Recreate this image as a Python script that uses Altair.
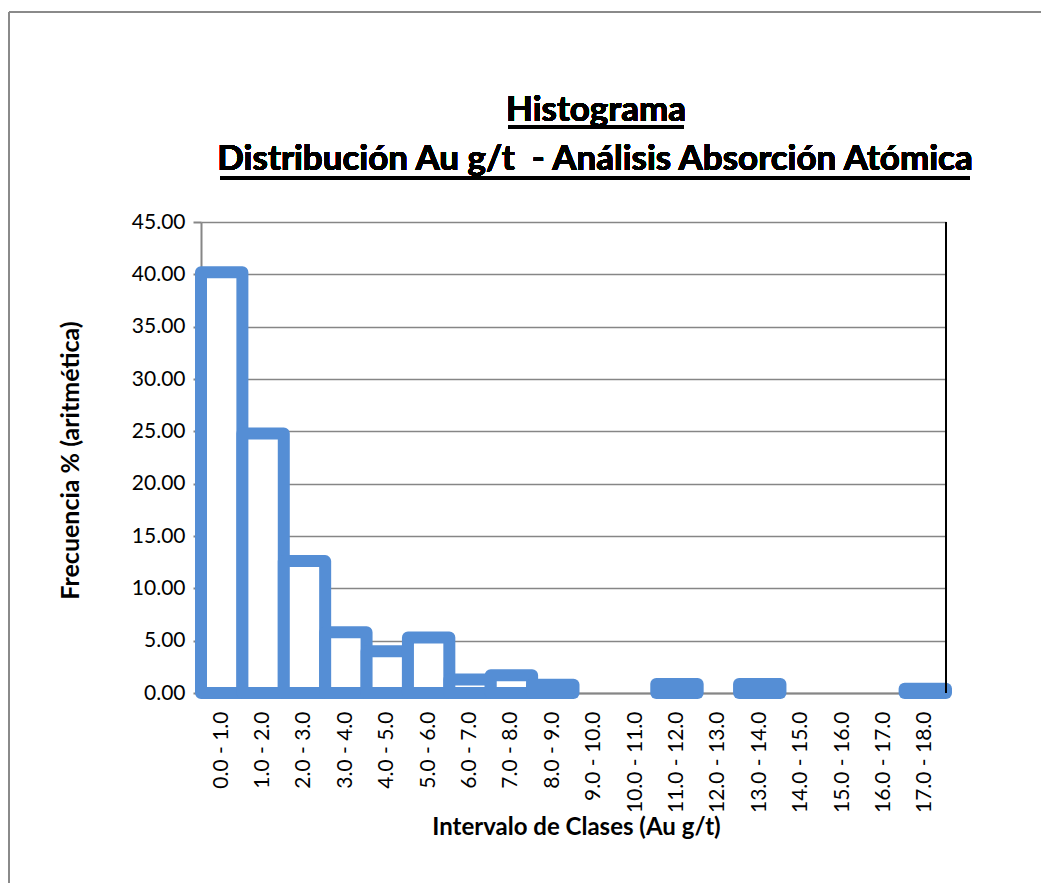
import altair as alt
import pandas as pd

categories = ["0.0 - 1.0", "1.0 - 2.0", "2.0 - 3.0", "3.0 - 4.0", "4.0 - 5.0", "5.0 - 6.0",
              "6.0 - 7.0", "7.0 - 8.0", "8.0 - 9.0", "9.0 - 10.0", "10.0 - 11.0", "11.0 - 12.0",
              "12.0 - 13.0", "13.0 - 14.0", "14.0 - 15.0", "15.0 - 16.0", "16.0 - 17.0", "17.0 - 18.0"]
frecuencia = [40.2, 24.8, 12.6, 5.8, 4.0, 5.3, 1.3, 1.7, 0.8, 0.0, 0.0, 0.85, 0.0, 0.85, 0.0, 0.0, 0.0, 0.4]
y_ticks = [0, 5, 10, 15, 20, 25, 30, 35, 40, 45]

title_line1 = "Histograma"
title_line2 = "Distribución Au g/t\u00a0 - Análisis Absorción Atómica"

df = pd.DataFrame({"intervalo": categories, "frecuencia": frecuencia})

FONT = "Lato"
W, H = 745, 471

bars = alt.Chart(df).transform_filter(alt.datum.frecuencia > 0).mark_bar(
    fill="white", stroke="#558ED5", strokeWidth=12, strokeJoin="round"
).encode(
    x=alt.X("intervalo:N", sort=categories,
            scale=alt.Scale(domain=categories, paddingInner=0, paddingOuter=0),
            axis=alt.Axis(title="Intervalo de Clases (Au g/t)", labelAngle=-90, labelFontSize=21,
                          labelFont=FONT, labelColor="black", labelPadding=18, ticks=False,
                          domainColor="#868686", domainWidth=2,
                          titleFont=FONT, titleFontSize=24, titleFontWeight="bold", titleColor="black",
                          titleBaseline="alphabetic", titleX=375, titleY=141)),
    y=alt.Y("frecuencia:Q", scale=alt.Scale(domain=[0, 45], nice=False),
            axis=alt.Axis(title="Frecuencia % (aritmética)", values=y_ticks, format=".2f",
                          labelFontSize=21, labelFont=FONT, labelColor="black", labelPadding=8,
                          tickColor="#868686", tickSize=8, tickWidth=2,
                          domainColor="#868686", domainWidth=2,
                          gridColor="#868686", gridWidth=1.5,
                          titleFont=FONT, titleFontSize=25, titleFontWeight="bold", titleColor="black",
                          titleX=-118, titleY=238)),
)

t1 = alt.Chart(df).mark_text(font=FONT, fontSize=35, fontWeight="bold", color="black",
                             align="center", baseline="alphabetic").encode(
    x=alt.value(395), y=alt.value(-101), text=alt.value(title_line1))
t2 = alt.Chart(df).mark_text(font=FONT, fontSize=35, fontWeight="bold", color="black",
                             align="center", baseline="alphabetic").encode(
    x=alt.value(394), y=alt.value(-52), text=alt.value(title_line2))
under1 = alt.Chart(df).mark_rule(color="black", strokeWidth=2.5).encode(
    x=alt.value(307), x2=alt.value(483), y=alt.value(-95))
under2 = alt.Chart(df).mark_rule(color="black", strokeWidth=2.5).encode(
    x=alt.value(19), x2=alt.value(769), y=alt.value(-44))
right_border = alt.Chart(df).mark_rule(color="black", strokeWidth=2).encode(
    x=alt.value(W), y=alt.value(0), y2=alt.value(H))
border_left = alt.Chart(df).mark_rule(color="#8a8a8a", strokeWidth=2).encode(
    x=alt.value(-192), y=alt.value(-210), y2=alt.value(700))
border_top = alt.Chart(df).mark_rule(color="#8a8a8a", strokeWidth=2).encode(
    x=alt.value(-192), x2=alt.value(900), y=alt.value(-210))

chart = alt.layer(bars, t1, t2, under1, under2, right_border, border_left, border_top).properties(
    width=W, height=H,
    autosize=alt.AutoSizeParams(type="none"),
    padding={"left": 193, "top": 214, "right": 95, "bottom": 190},
).configure_view(stroke="#868686", strokeWidth=1.5).configure(background="white")

chart.save("out.html", embed_options={"renderer": "svg", "actions": False})
